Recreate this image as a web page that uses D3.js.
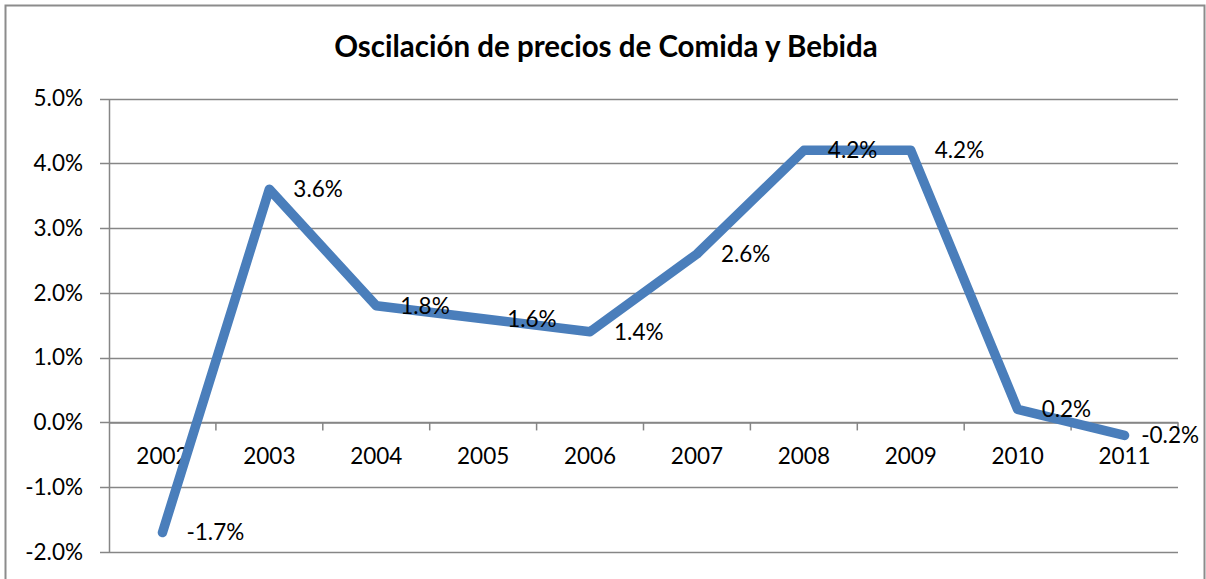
<!DOCTYPE html>
<html>
<head>
<meta charset="utf-8">
<script src="https://cdn.jsdelivr.net/npm/d3@7"></script>
<style>
  body { margin: 0; background: #fff; }
  svg { display: block; font-family: Lato, 'Open Sans', sans-serif; }
</style>
</head>
<body>
<div id="chart"></div>
<script>
const years = ['2002', '2003', '2004', '2005', '2006', '2007', '2008', '2009', '2010', '2011'];
const values = [-1.7, 3.6, 1.8, 1.6, 1.4, 2.6, 4.2, 4.2, 0.2, -0.2];
const yTicks = [-2, -1, 0, 1, 2, 3, 4, 5];
const title = 'Oscilación de precios de Comida y Bebida';

const width = 1206;
const height = 579;
const margin = { top: 98.5, left: 109, bottom: 27, right: 28 };
const lineColor = '#4a7ebb';
const gridColor = '#868686';
const fontSize = 22.5;

// excel style: plain hyphen for negatives
const pct = (d) => d3.format('.1f')(d).replace('\u2212', '-') + '%';

const svg = d3
    .select('#chart')
    .append('svg')
    .attr('width', width)
    .attr('height', height);

// chart border
svg.append('rect')
    .attr('x', 5.5)
    .attr('y', 5.5)
    .attr('width', 1199)
    .attr('height', 600)
    .attr('fill', 'none')
    .attr('stroke', '#8c8c8c')
    .attr('stroke-width', 2);

svg.append('text')
    .attr('x', 606)
    .attr('y', 57)
    .attr('text-anchor', 'middle')
    .attr('font-weight', 700)
    .attr('font-size', 29.5)
    .attr('fill', '#000')
    .text(title);

const x = d3
    .scaleBand()
    .domain(years)
    .range([margin.left, width - margin.right]);

const y = d3
    .scaleLinear()
    .domain([-2, 5])
    .range([height - margin.bottom, margin.top]);

// horizontal grid
svg.append('g')
    .selectAll('line')
    .data(yTicks)
    .enter()
    .append('line')
    .attr('x1', margin.left - 9)
    .attr('x2', width - margin.right)
    .attr('y1', (d) => Math.round(y(d)) + 0.5)
    .attr('y2', (d) => Math.round(y(d)) + 0.5)
    .attr('stroke', gridColor)
    .attr('stroke-width', 1.5);

// y axis
const yAxis = svg.append('g')
    .attr('transform', `translate(${margin.left},0)`)
    .call(d3.axisLeft(y).tickValues(yTicks).tickSize(0).tickPadding(26).tickFormat(pct));
yAxis.select('.domain').attr('stroke', gridColor).attr('stroke-width', 1.5);
yAxis.selectAll('text')
    .attr('font-size', fontSize)
    .attr('fill', '#000')
    .attr('font-family', 'Lato, sans-serif');

// x axis on the zero line
const xAxis = svg.append('g')
    .attr('transform', `translate(0,${Math.round(y(0)) + 0.5})`)
    .call(d3.axisBottom(x).tickSize(0).tickPadding(26));
xAxis.select('.domain').attr('stroke', gridColor).attr('stroke-width', 1.5);
xAxis.selectAll('text')
    .attr('font-size', fontSize)
    .attr('fill', '#000')
    .attr('font-family', 'Lato, sans-serif');

// category tick marks between categories
svg.append('g')
    .selectAll('line')
    .data(years)
    .enter()
    .append('line')
    .attr('x1', (d) => x(d) + x.bandwidth())
    .attr('x2', (d) => x(d) + x.bandwidth())
    .attr('y1', y(0))
    .attr('y2', y(0) + 8)
    .attr('stroke', gridColor)
    .attr('stroke-width', 1.5);

const line = d3
    .line()
    .x((d, i) => x(years[i]) + x.bandwidth() / 2)
    .y((d) => y(d));

svg.append('path')
    .datum(values)
    .attr('d', line)
    .attr('fill', 'none')
    .attr('stroke', lineColor)
    .attr('stroke-width', 9.5)
    .attr('stroke-linejoin', 'round')
    .attr('stroke-linecap', 'round');

// data labels, right of each point, kept inside the chart border
svg.append('g')
    .selectAll('text')
    .data(values)
    .enter()
    .append('text')
    .attr('y', (d) => y(d))
    .attr('dy', '0.35em')
    .attr('font-size', fontSize)
    .attr('fill', '#000')
    .text(pct)
    .attr('x', function (d, i) {
        const px = x(years[i]) + x.bandwidth() / 2 + 24;
        return Math.min(px, width - 7 - this.getComputedTextLength());
    });
</script>
</body>
</html>
